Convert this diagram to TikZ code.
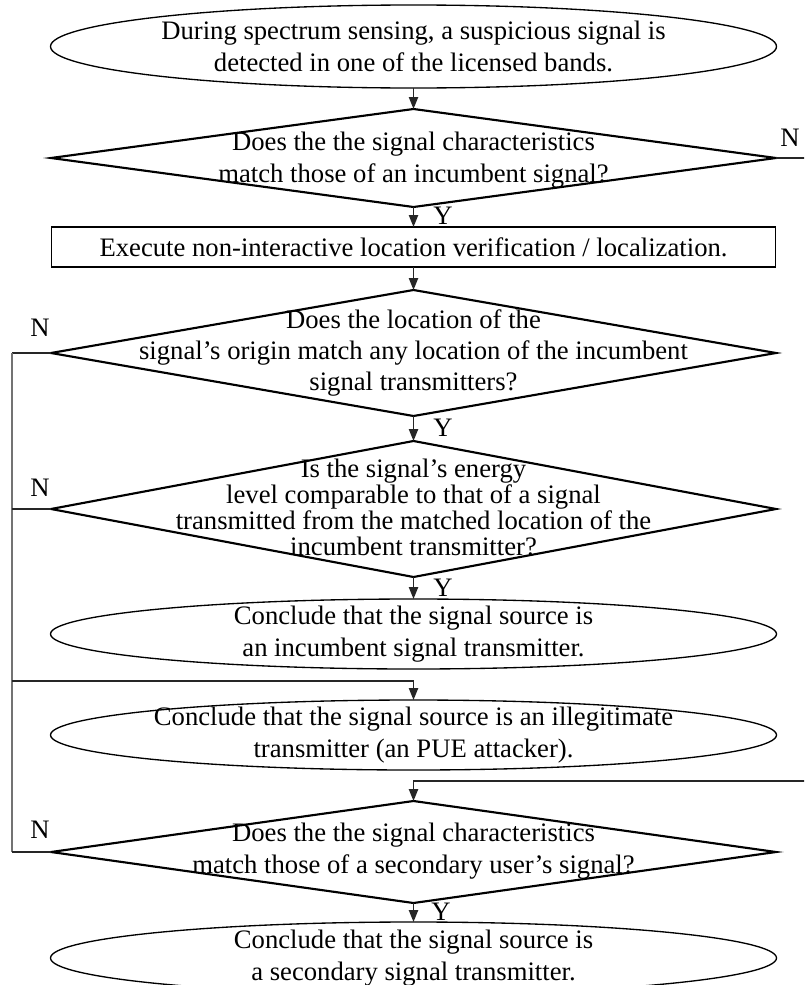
\documentclass[tikz,border=0pt]{standalone}
\usepackage{fontspec}
\setmainfont{Liberation Serif}
\usetikzlibrary{shapes.geometric,arrows.meta}
\newlength\px \setlength\px{0.75pt}
\begin{document}
\begin{tikzpicture}[x=0.75pt,y=-0.75pt,
  dia/.style={draw, diamond, inner sep=0pt, outer sep=0pt, line width=1.6pt, minimum width=725\px, minimum height=#1},
  ell/.style={draw, ellipse, inner sep=0pt, outer sep=0pt, line width=1pt, minimum width=726\px, minimum height=#1},
  boxnode/.style={draw, rectangle, inner sep=0pt, outer sep=0pt, line width=1.3pt, minimum width=724\px, minimum height=40\px},
  txt/.style={align=center, inner sep=0pt, font=\fontsize{20}{23.5}\selectfont},
  txttight/.style={align=center, inner sep=0pt, font=\fontsize{20}{19.5}\selectfont},
  lbl/.style={inner sep=0pt, font=\fontsize{20}{22}\selectfont},
  conn/.style={draw=black!85, line width=1pt},
  side/.style={draw=black!55, line width=1.4pt},
  arr/.style={-{Triangle[length=9pt,width=7pt]}}
]
\useasboundingbox (0,0) rectangle (804,985);
\clip (0,0) rectangle (804,985);

% shapes
\node[ell=83\px] (e1) at (413.5,46.5) {};
\node[txt] (t1) at (e1.center) {During spectrum sensing, a suspicious signal is\\detected in one of the licensed bands.};

\node[dia=98\px] (d1) at (413.5,158) {};
\node[txt] (t2) at (413.5,160) {Does the the signal characteristics\\match those of an incumbent signal?};

\node[boxnode] (r1) at (413.5,247) {};
\node[txt] (t3) at (r1.center) {Execute non-interactive location verification / localization.};

\node[dia=126\px] (d2) at (413.5,353) {};
\node[txt] (t4) at (d2.center) {Does the location of the\\signal’s origin match any location of the incumbent\\signal transmitters?};

\node[dia=136\px] (d3) at (413.5,509) {};
\node[txttight] (t5) at (413.5,507) {Is the signal’s energy\\level comparable to that of a signal\\transmitted from the matched location of the\\incumbent transmitter?};

\node[ell=70\px] (e3) at (413.5,634) {};
\node[txt] (t6) at (e3.center) {Conclude that the signal source is\\an incumbent signal transmitter.};

\node[ell=70\px] (e4) at (413.5,735) {};
\node[txt] (t7) at (e4.center) {Conclude that the signal source is an illegitimate\\transmitter (an PUE attacker).};

\node[dia=102\px] (d5) at (413.5,852) {};
\node[txt] (t8) at (413.5,851) {Does the the signal characteristics\\match those of a secondary user’s signal?};

\node[ell=72\px] (e5) at (413.5,958) {};
\node[txt] (t9) at (e5.center) {Conclude that the signal source is\\a secondary signal transmitter.};

% helper coordinates
\coordinate (lx) at (12,0);
\coordinate (j4) at (12,681);
\coordinate (rin) at (806,781);
\coordinate (rout) at (806,158);

% vertical flow
\draw[conn,arr] (e1.south) -- (d1.north);
\draw[conn,arr] (d1.south) -- (r1.north);
\draw[conn,arr] (r1.south) -- (d2.north);
\draw[conn,arr] (d2.south) -- (d3.north);
\draw[conn,arr] (d3.south) -- (e3.north);
\draw[conn,arr] (d5.south) -- (e5.north);

% N branches
\draw[conn] (d1.east) -- (d1.east -| rout);
\draw[conn] (d2.west) -- (d2.west -| lx);
\draw[side] (d2.west -| lx) -- (d5.west -| lx);
\draw[conn] (d5.west -| lx) -- (d5.west);
\draw[conn] (d3.west) -- (d3.west -| lx);
\draw[conn,arr] (j4) -- (j4 -| e4.north) -- (e4.north);
\draw[conn,arr] (rin) -- (rin -| d5.north) -- (d5.north);

% labels
\node[lbl] (n1) at (790,138) {N};
\node[lbl] (n2) at (40,328) {N};
\node[lbl] (n3) at (40,488) {N};
\node[lbl] (n5) at (40,830) {N};
\node[lbl] (y1) at (443,216) {Y};
\node[lbl] (y2) at (443,428) {Y};
\node[lbl] (y3) at (443,588) {Y};
\node[lbl] (y5) at (441,912) {Y};
\end{tikzpicture}
\end{document}
